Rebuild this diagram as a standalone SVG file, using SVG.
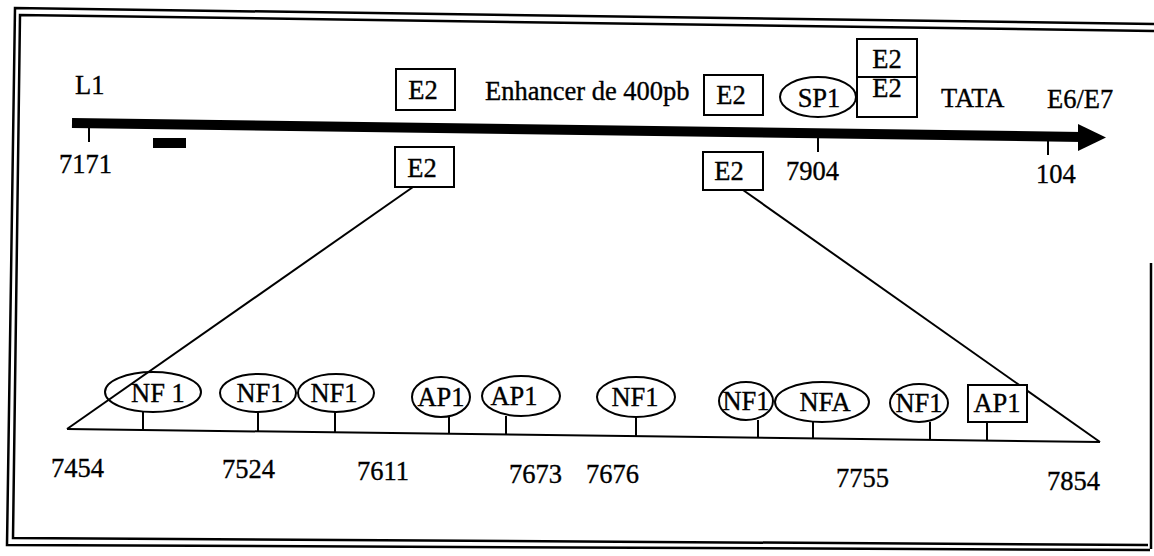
<svg xmlns="http://www.w3.org/2000/svg" width="1154" height="556" viewBox="0 0 1154 556">
<style>
text{font-family:"Liberation Serif","Times New Roman",serif;font-size:26.5px;fill:#000;stroke:#000;stroke-width:0.35}
.c{text-anchor:middle}
.box{fill:#fff;stroke:#000;stroke-width:2}
.el{fill:#fff;stroke:#000;stroke-width:2}
.ln{stroke:#000;stroke-width:2;fill:none}
.fr{stroke:#000;stroke-width:2.5;fill:none}
</style>
<rect width="1154" height="556" fill="#fff"/>
<g id="frame">
<polyline class="fr" points="1154,24 15,8 7,545 1150,550"/>
<polyline class="fr" points="1154,31 20,15 13,538 1148,545"/>
<line class="fr" x1="1151" y1="263" x2="1151" y2="549"/>
</g>
<g id="genome">
<line x1="72" y1="123" x2="1082" y2="137" stroke="#000" stroke-width="10"/>
<polygon points="1078,124 1106,137.5 1078,151" fill="#000"/>
<line class="ln" x1="89" y1="126" x2="89" y2="142"/>
<rect x="153" y="138" width="33" height="10" fill="#000"/>
<line class="ln" x1="818" y1="135" x2="818" y2="152"/>
<line class="ln" x1="1048" y1="138" x2="1048" y2="155"/>
<text x="75" y="94">L1</text>
<text x="59" y="173">7171</text>
<text x="485" y="100">Enhancer de 400pb</text>
<text x="941" y="107">TATA</text>
<text x="1047" y="108">E6/E7</text>
<text x="786" y="180">7904</text>
<text x="1036" y="183">104</text>
</g>
<g id="e2-top-1"><rect class="box" x="396" y="69" width="59" height="41"/><text class="c" x="423" y="99">E2</text></g>
<g id="e2-top-2"><rect class="box" x="704" y="75" width="59" height="40"/><text class="c" x="731" y="104">E2</text></g>
<g id="sp1"><ellipse class="el" cx="818" cy="97" rx="38" ry="20"/><text class="c" x="819" y="107">SP1</text></g>
<g id="e2-stack"><rect class="box" x="857" y="39" width="60" height="78"/><line class="ln" x1="857" y1="77" x2="917" y2="77"/><text class="c" x="887" y="68">E2</text><text class="c" x="887" y="97">E2</text></g>
<g id="e2-low-1"><rect class="box" x="395" y="147" width="59" height="40"/><text class="c" x="422" y="177">E2</text></g>
<g id="e2-low-2"><rect class="box" x="703" y="152" width="60" height="38"/><text class="c" x="729" y="180">E2</text></g>
<g id="connectors">
<line class="ln" x1="413" y1="187" x2="67" y2="429"/>
<line class="ln" x1="743" y1="190" x2="1100" y2="442"/>
<line class="ln" x1="67" y1="429" x2="1100" y2="442"/>
<line class="ln" x1="143" y1="412" x2="143" y2="430"/>
<line class="ln" x1="258" y1="412" x2="258" y2="431"/>
<line class="ln" x1="335" y1="412" x2="335" y2="432"/>
<line class="ln" x1="449" y1="417" x2="449" y2="434"/>
<line class="ln" x1="506" y1="416" x2="506" y2="435"/>
<line class="ln" x1="636" y1="417" x2="636" y2="436"/>
<line class="ln" x1="758" y1="420" x2="758" y2="438"/>
<line class="ln" x1="813" y1="422" x2="813" y2="438"/>
<line class="ln" x1="930" y1="422" x2="930" y2="440"/>
<line class="ln" x1="987" y1="422" x2="987" y2="440"/>
</g>
<g id="nf1-a"><ellipse class="el" cx="153" cy="392" rx="48" ry="20" fill-opacity="0"/><text class="c" x="158" y="402">NF 1</text></g>
<g id="nf1-b"><ellipse class="el" cx="258" cy="393" rx="38" ry="19"/><text class="c" x="260" y="402">NF1</text></g>
<g id="nf1-c"><ellipse class="el" cx="336" cy="393" rx="38" ry="19"/><text class="c" x="334" y="402">NF1</text></g>
<g id="ap1-a"><ellipse class="el" cx="441" cy="397" rx="29" ry="20"/><text class="c" x="441" y="406">AP1</text></g>
<g id="ap1-b"><ellipse class="el" cx="521" cy="396" rx="39" ry="20"/><text class="c" x="514" y="405">AP1</text></g>
<g id="nf1-d"><ellipse class="el" cx="636" cy="397" rx="39" ry="20"/><text class="c" x="635" y="406">NF1</text></g>
<g id="nf1-e"><ellipse class="el" cx="746" cy="401" rx="27" ry="19"/><text class="c" x="746" y="410">NF1</text></g>
<g id="nfa"><ellipse class="el" cx="822" cy="402" rx="47" ry="20"/><text class="c" x="825" y="411">NFA</text></g>
<g id="nf1-f"><ellipse class="el" cx="919" cy="403" rx="29" ry="19"/><text class="c" x="919" y="412">NF1</text></g>
<g id="ap1-c"><rect class="box" x="968" y="385" width="59" height="37"/><text class="c" x="997" y="412">AP1</text></g>
<g id="positions">
<text x="51" y="477">7454</text>
<text x="222" y="478">7524</text>
<text x="357" y="480">7611</text>
<text x="509" y="483">7673</text>
<text x="586" y="483">7676</text>
<text x="836" y="487">7755</text>
<text x="1047" y="490">7854</text>
</g>
</svg>
